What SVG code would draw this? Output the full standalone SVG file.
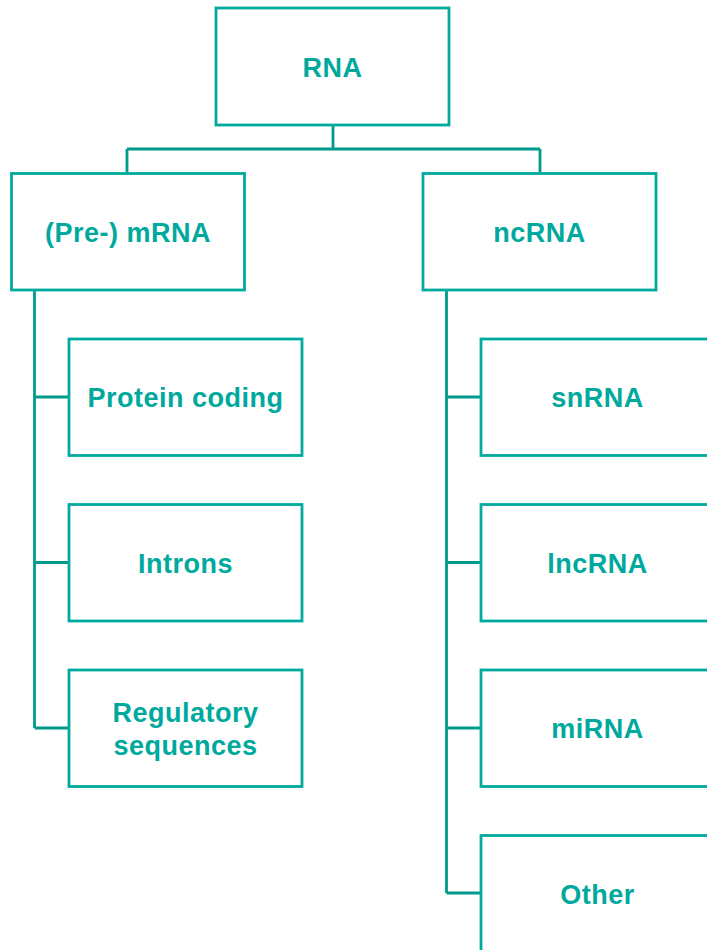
<svg xmlns="http://www.w3.org/2000/svg" width="707" height="950" viewBox="0 0 707 950">
<style>
.box{fill:#fff;stroke:#00ab9d;stroke-width:2.8}
.lbl{font-family:"Liberation Sans",Arial,sans-serif;font-weight:bold;font-size:27px;letter-spacing:0.5px;fill:#00a99d;text-anchor:middle}
.con{fill:none;stroke:#009a8b;stroke-width:2.8}
</style>
<rect width="707" height="950" fill="#fff"/>
<g id="connectors">
<path class="con" d="M333,125 V149 M127,149 H540 M127,149 V173 M540,149 V173"/>
<path class="con" d="M34.5,290 V728 M34.5,397 H69 M34.5,562.5 H69 M34.5,728 H69"/>
<path class="con" d="M446.5,290 V893 M446.5,397 H481 M446.5,562.5 H481 M446.5,728 H481 M446.5,893 H481"/>
</g>
<g id="rna"><rect class="box" x="216" y="8" width="233" height="117"/><text class="lbl" x="332.5" y="76.5">RNA</text></g>
<g id="mrna"><rect class="box" x="11.5" y="173.5" width="233" height="116.5"/><text class="lbl" x="128" y="241.5">(Pre-) mRNA</text></g>
<g id="ncrna"><rect class="box" x="423" y="173.5" width="233" height="116.5"/><text class="lbl" x="539.5" y="241.5">ncRNA</text></g>
<g id="protein"><rect class="box" x="69" y="339" width="233" height="116.5"/><text class="lbl" x="185.5" y="407">Protein coding</text></g>
<g id="introns"><rect class="box" x="69" y="504.5" width="233" height="116.5"/><text class="lbl" x="185.5" y="572.5">Introns</text></g>
<g id="regulatory"><rect class="box" x="69" y="670" width="233" height="116.5"/><text class="lbl" x="185.5" y="721.5">Regulatory</text><text class="lbl" x="185.5" y="755">sequences</text></g>
<g id="snrna"><rect class="box" x="481" y="339" width="233" height="116.5"/><text class="lbl" x="597.5" y="407">snRNA</text></g>
<g id="lncrna"><rect class="box" x="481" y="504.5" width="233" height="116.5"/><text class="lbl" x="597.5" y="572.5">lncRNA</text></g>
<g id="mirna"><rect class="box" x="481" y="670" width="233" height="116.5"/><text class="lbl" x="597.5" y="738">miRNA</text></g>
<g id="other"><rect class="box" x="481" y="835.5" width="233" height="130"/><text class="lbl" x="597.5" y="903.5">Other</text></g>
</svg>
